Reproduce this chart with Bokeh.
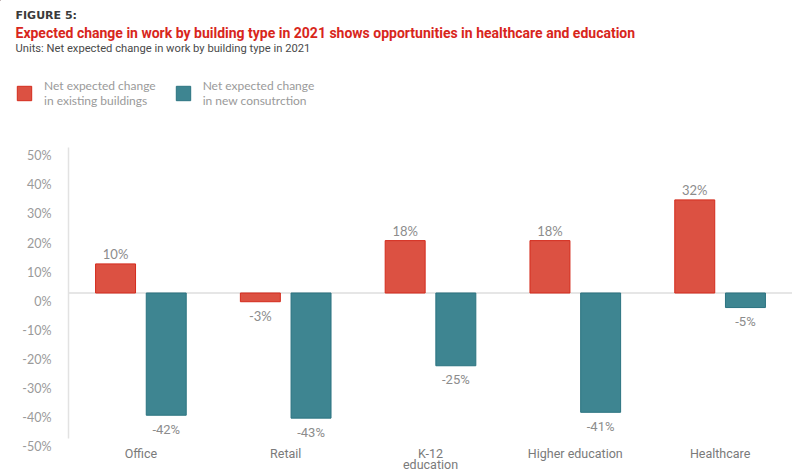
from bokeh.plotting import figure
from bokeh.layouts import column
from bokeh.models import (ColumnDataSource, FactorRange, Range1d, FixedTicker, Span,
                          Label, Legend, LegendItem)
from bokeh.transform import dodge
from bokeh.core.properties import value
from bokeh.embed import file_html
from bokeh.resources import INLINE

# ---- data ----
categories = ["Office", "Retail", "K-12\neducation", "Higher education", "Healthcare"]
existing_buildings = [10, -3, 18, 18, 32]
new_construction = [-42, -43, -25, -41, -5]
y_ticks = [-50, -40, -30, -20, -10, 0, 10, 20, 30, 40, 50]
y_tick_labels = ["-50%", "-40%", "-30%", "-20%", "-10%", "0%", "10%", "20%", "30%", "40%", "50%"]
series_names = ["Net expected change\nin existing buildings",
                "Net expected change\nin new consutrction"]
figure_label = "FIGURE 5:"
title_text = ("Expected change in work by building type in 2021 shows "
              "opportunities in healthcare and education")
subtitle_text = "Units: Net expected change in work by building type in 2021"

# ---- style ----
RED_FILL, RED_LINE = "#dc5142", "#d42b1c"
TEAL_FILL, TEAL_LINE = "#3e8591", "#2b7380"
GREY_TXT = "#8c8c8c"
W = 792
HEAD_H = 120
FOOT_H = 38
LEFT = 68
FRAME_TOP = 147
FRAME_H = 291


def pct(v):
    return f"{v}%"


def offs(vals):
    return [-10 if v >= 0 else 14 for v in vals]


def no_align(fig):
    if "frame_align" in fig.properties():
        fig.frame_align = False


src = ColumnDataSource(dict(
    cat=categories,
    existing=existing_buildings,
    new=new_construction,
    existing_lbl=[pct(v) for v in existing_buildings],
    new_lbl=[pct(v) for v in new_construction],
    existing_off=offs(existing_buildings),
    new_off=offs(new_construction),
))


def bare(fig):
    fig.axis.visible = False
    fig.grid.visible = False
    fig.outline_line_color = None


# ---------------- header (titles + legend) ----------------
h = figure(width=W, height=HEAD_H, x_range=Range1d(0, W), y_range=Range1d(HEAD_H, 0),
           output_backend="svg", toolbar_location=None, min_border=0)
bare(h)
no_align(h)

h.add_layout(Label(x=15, y=15, text=figure_label, text_baseline="middle",
                   text_font="DejaVu Sans", text_font_style="bold",
                   text_font_size="11px", text_color="#3a3a3a"))
h.add_layout(Label(x=15, y=32, text=title_text, text_baseline="middle",
                   text_font="Roboto", text_font_style="bold",
                   text_font_size="14px", text_color="#d8261c"))
h.add_layout(Label(x=15, y=48, text=subtitle_text, text_baseline="middle",
                   text_font="Roboto", text_font_size="11.2px", text_color="#4a4a4a"))

# legend proxies (zero-size, off-range) so the legend can draw its swatches
lg1 = h.vbar(x=[-100], top=[0], bottom=0, width=0, fill_color=RED_FILL, line_color=RED_LINE)
lg2 = h.vbar(x=[-100], top=[0], bottom=0, width=0, fill_color=TEAL_FILL, line_color=TEAL_LINE)
legend = Legend(items=[LegendItem(label=series_names[0], renderers=[lg1]),
                       LegendItem(label=series_names[1], renderers=[lg2])],
                orientation="horizontal", location=(15, HEAD_H - 108),
                glyph_width=18, glyph_height=18, label_standoff=11, spacing=18,
                padding=0, margin=0, border_line_color=None, background_fill_alpha=0,
                label_text_font="Lato", label_text_font_size="12px",
                label_text_color="#9a9a9a", label_text_line_height=0.8)
h.add_layout(legend)

# ---------------- main chart ----------------
p = figure(width=W, height=FRAME_TOP - HEAD_H + FRAME_H + FOOT_H,
           x_range=FactorRange(factors=categories), y_range=Range1d(-50, 50),
           output_backend="svg", toolbar_location=None,
           min_border_left=LEFT, min_border_right=0, min_border_top=FRAME_TOP - HEAD_H,
           min_border_bottom=FOOT_H)
no_align(p)
p.outline_line_color = None
p.xgrid.visible = False
p.ygrid.visible = False
p.xaxis.visible = False
p.background_fill_color = "white"
p.border_fill_color = "white"

# y axis
p.yaxis.ticker = FixedTicker(ticks=y_ticks)
p.yaxis.major_label_overrides = {t: "\n" + l for t, l in zip(y_ticks, y_tick_labels)}
p.yaxis.major_tick_line_color = None
p.yaxis.minor_tick_line_color = None
p.yaxis.axis_line_color = "#e2e2e2"
p.yaxis.axis_line_width = 1.5
p.yaxis.major_label_standoff = 11
p.yaxis.major_label_text_font = "Lato"
p.yaxis.major_label_text_font_size = "12.5px"
p.yaxis.major_label_text_color = "#9a9a9a"
p.yaxis.major_label_text_line_height = 1.1

# zero line
p.add_layout(Span(location=0, dimension="width", line_color="#e6e6e6", line_width=2,
                  level="underlay"))

r1 = p.vbar(x=dodge("cat", -0.175, range=p.x_range), top="existing", bottom=0, width=0.276,
            fill_color=RED_FILL, line_color=RED_LINE, line_width=1, source=src)
r2 = p.vbar(x=dodge("cat", 0.175, range=p.x_range), top="new", bottom=0, width=0.276,
            fill_color=TEAL_FILL, line_color=TEAL_LINE, line_width=1, source=src)

p.text(x=dodge("cat", -0.175, range=p.x_range), y="existing", text="existing_lbl",
       y_offset="existing_off", text_align="center", text_baseline="middle",
       text_font=value("Lato"), text_font_size="13px", text_color=GREY_TXT, source=src)
p.text(x=dodge("cat", 0.175, range=p.x_range), y="new", text="new_lbl",
       y_offset="new_off", text_align="center", text_baseline="middle",
       text_font=value("Roboto"), text_font_size="13px",
       text_color=GREY_TXT, source=src)

# ---------------- footer: category labels on the shared category scale ----------------
# laid over the main chart's bottom border (transparent), so nothing there is clipped
f = figure(width=W, height=FOOT_H, x_range=p.x_range, y_range=Range1d(FOOT_H, 0),
           output_backend="svg", toolbar_location=None, margin=(-FOOT_H, 0, 0, 0),
           min_border_left=LEFT, min_border_right=0, min_border_top=0, min_border_bottom=0)
bare(f)
no_align(f)
f.background_fill_alpha = 0
f.border_fill_alpha = 0
f.text(x="cat", y=7, text="cat", source=src, text_align="center", text_baseline="top",
       text_font=value("Roboto"), text_font_size="12.5px", text_color="#7a7a7a",
       text_line_height=0.75)

layout = column(h, p, f, spacing=0)
open("out.html", "w").write(file_html(layout, INLINE))
